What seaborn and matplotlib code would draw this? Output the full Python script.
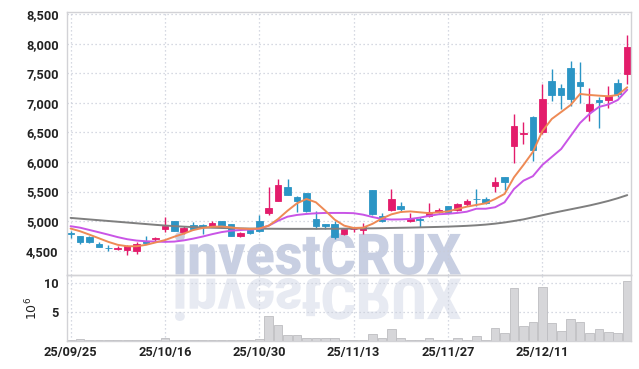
import numpy as np
import pandas as pd
import matplotlib
matplotlib.use("Agg")
import matplotlib.pyplot as plt
import seaborn as sns
from matplotlib.textpath import TextPath
from matplotlib.patches import PathPatch
from matplotlib.font_manager import FontProperties
from matplotlib.transforms import Affine2D, IdentityTransform
from matplotlib.ticker import FuncFormatter

# ---------------- data ----------------
dates = ["25/09/25", "25/09/26", "25/09/29", "25/09/30", "25/10/01", "25/10/02", "25/10/10",
         "25/10/13", "25/10/14", "25/10/15", "25/10/16", "25/10/17", "25/10/20", "25/10/21",
         "25/10/22", "25/10/23", "25/10/24", "25/10/27", "25/10/28", "25/10/29", "25/10/30",
         "25/10/31", "25/11/03", "25/11/04", "25/11/05", "25/11/06", "25/11/07", "25/11/10",
         "25/11/11", "25/11/12", "25/11/13", "25/11/14", "25/11/17", "25/11/18", "25/11/19",
         "25/11/20", "25/11/21", "25/11/24", "25/11/25", "25/11/26", "25/11/27", "25/11/28",
         "25/12/01", "25/12/02", "25/12/03", "25/12/04", "25/12/05", "25/12/08", "25/12/09",
         "25/12/10", "25/12/11", "25/12/12", "25/12/15", "25/12/16", "25/12/17", "25/12/18",
         "25/12/19", "25/12/22", "25/12/23", "25/12/24"]

opens = [4800, 4750, 4740, 4615, 4550, 4535, 4520, 4500, 4670, 4695,
         4870, 5000, 4815, 4930, 4935, 4925, 5005, 4955, 4750, 4855,
         5000, 5140, 5345, 5585, 5415, 5475, 5035, 4950, 4950, 4775,
         4860, 4855, 5525, 5095, 5195, 5250, 5010, 5035, 5080, 5150,
         5250, 5195, 5290, 5380, 5375, 5600, 5740, 6275, 6480, 6755,
         6500, 7375, 7250, 7590, 7355, 6870, 7050, 7055, 7335, 7480]
highs = [4830, 4755, 4745, 4650, 4600, 4575, 4590, 4645, 4750, 4740,
         5075, 5005, 4925, 4990, 4945, 5000, 5010, 4960, 4810, 4890,
         5105, 5575, 5715, 5715, 5420, 5480, 5175, 4955, 5010, 4870,
         4905, 4970, 5530, 5140, 5545, 5330, 5135, 5065, 5310, 5220,
         5255, 5310, 5375, 5545, 5400, 5740, 5750, 6810, 6670, 6785,
         7320, 7570, 7320, 7700, 7685, 7245, 7095, 7290, 7405, 8145]
lows = [4720, 4615, 4630, 4555, 4490, 4510, 4430, 4445, 4610, 4640,
        4825, 4835, 4785, 4850, 4785, 4895, 4900, 4750, 4740, 4785,
        4810, 5105, 5335, 5440, 5150, 5150, 4870, 4870, 4700, 4760,
        4810, 4785, 5110, 4990, 5180, 5150, 4980, 4905, 5065, 5135,
        5140, 5180, 5250, 5260, 5290, 5490, 5530, 5985, 6305, 6020,
        6480, 7035, 6895, 6950, 7000, 6700, 6570, 6910, 7095, 7320]
closes = [4775, 4655, 4640, 4560, 4540, 4545, 4575, 4615, 4625, 4720,
          4925, 4840, 4880, 4875, 4900, 4975, 4905, 4755, 4795, 4800,
          4830, 5230, 5610, 5450, 5345, 5180, 4915, 4925, 4740, 4865,
          4870, 4905, 5120, 5010, 5375, 5205, 5035, 5020, 5150, 5190,
          5150, 5290, 5335, 5370, 5305, 5655, 5670, 6615, 6495, 6210,
          7065, 7140, 7140, 7065, 7280, 6980, 7020, 7120, 7150, 7940]

ma_short = [4875, 4830, 4772, 4711, 4650, 4600, 4576, 4576, 4600, 4640,
            4680, 4738, 4790, 4850, 4885, 4905, 4910, 4895, 4875, 4868,
            4875, 4924, 5037, 5177, 5302, 5375, 5319, 5177, 5025, 4924,
            4885, 4890, 4955, 5045, 5115, 5155, 5165, 5150, 5135, 5150,
            5165, 5206, 5245, 5274, 5302, 5375, 5460, 5742, 5950, 6170,
            6520, 6727, 6845, 6964, 7150, 7133, 7121, 7111, 7133, 7263]
ma_mid = [4915, 4890, 4851, 4812, 4772, 4730, 4695, 4672, 4660, 4655,
          4650, 4655, 4675, 4705, 4740, 4780, 4815, 4838, 4850, 4858,
          4872, 4924, 5008, 5076, 5105, 5122, 5133, 5139, 5139, 5139,
          5135, 5110, 5070, 5037, 5028, 5030, 5037, 5059, 5090, 5116,
          5125, 5139, 5160, 5210, 5210, 5235, 5319, 5544, 5684, 5760,
          5950, 6085, 6220, 6440, 6660, 6812, 6930, 6972, 7048, 7220]
ma_long = [5055, 5042, 5029, 5016, 5003, 4990, 4977, 4964, 4951, 4938,
           4926, 4916, 4907, 4900, 4894, 4889, 4885, 4881, 4878, 4875,
           4873, 4872, 4871, 4870, 4870, 4870, 4870, 4871, 4872, 4873,
           4875, 4877, 4879, 4882, 4885, 4888, 4891, 4895, 4899, 4903,
           4908, 4914, 4921, 4930, 4942, 4958, 4978, 5003, 5030, 5065,
           5100, 5135, 5168, 5200, 5232, 5265, 5302, 5342, 5388, 5440]

volume = [0.10, 0.25, 0.05, 0.05, 0.05, 0.05, 0.05, 0.10, 0.20, 0.10,
          0.55, 0.15, 0.10, 0.10, 0.20, 0.10, 0.20, 0.10, 0.10, 0.15,
          0.30, 4.30, 2.65, 0.95, 0.95, 0.55, 0.55, 0.40, 0.40, 0.20,
          0.10, 0.10, 1.25, 0.40, 2.10, 0.55, 0.20, 0.15, 0.55, 0.15,
          0.15, 0.40, 0.20, 0.75, 0.20, 2.30, 1.40, 9.10, 2.60, 3.30,
          9.30, 3.10, 1.70, 3.70, 3.20, 1.40, 2.10, 1.60, 1.40, 10.35]

tick_positions = [0, 10, 20, 30, 40, 50]
tick_labels = [dates[i] for i in tick_positions]
price_ticks = [4500, 5000, 5500, 6000, 6500, 7000, 7500, 8000, 8500]
volume_ticks = [5, 10]

# ---------------- style ----------------
UP = "#E31C6B"
DOWN = "#2B95C5"
ORANGE = "#EE8A55"
PURPLE = "#C955E6"
GREY = "#7F7F7F"
GRID = "#C9CDD9"
SPINE = "#D2D2D6"
TXT = "#222222"

sns.set_theme(style="white")
plt.rcParams['font.family'] = ['Roboto', 'DejaVu Sans']

df = pd.DataFrame({"idx": np.arange(len(dates)), "date": dates,
                   "open": opens, "high": highs, "low": lows, "close": closes,
                   "ma_short": ma_short, "ma_mid": ma_mid, "ma_long": ma_long,
                   "volume": volume})

W, H = 639, 369
fig = plt.figure(figsize=(W / 100, H / 100), dpi=100)
left, right = 67 / W, 631 / W
ax = fig.add_axes([left, 1 - 275.3 / H, right - left, (275.3 - 12.3) / H])
axv = fig.add_axes([left, 1 - 340.7 / H, right - left, (340.7 - 275.3) / H], sharex=ax)
for a in (ax, axv):
    a.set_facecolor("none")
    a.set_axisbelow(True)

# watermark (upright + reflection)
fp = FontProperties(family="Roboto", weight="black")
tp = TextPath((0, 0), "investCRUX", size=60, prop=fp)
ext = tp.get_extents()
sx = 286 / ext.width
sy = 43 / ext.height
up_tr = Affine2D().translate(-ext.x0, -ext.y0).scale(sx, sy).translate(175, H - 275)
dn_tr = Affine2D().translate(-ext.x0, -ext.y0).scale(sx, -sy).translate(175, H - 278)
p1 = PathPatch(up_tr.transform_path(tp), facecolor="#C8CFE2", edgecolor="none",
               transform=IdentityTransform(), zorder=-2)
p2 = PathPatch(dn_tr.transform_path(tp), facecolor="#E7EAF2", edgecolor="none",
               transform=IdentityTransform(), zorder=-2)
fig.add_artist(p1)
fig.add_artist(p2)

# candles
x = df["idx"].to_numpy()
o = df["open"].to_numpy(); c = df["close"].to_numpy()
colors = [UP if cc >= oo else DOWN for oo, cc in zip(o, c)]
ax.vlines(x, df["low"], df["high"], colors=colors, linewidth=1.0, zorder=2)
body_bottom = np.minimum(o, c)
body_height = np.maximum(np.abs(c - o), 12)
ax.bar(x, body_height, bottom=body_bottom, width=0.7, color=colors,
       edgecolor=colors, linewidth=0.6, zorder=2)

# moving averages
sns.lineplot(data=df, x="idx", y="ma_long", ax=ax, color=GREY, linewidth=1.4, zorder=3)
sns.lineplot(data=df, x="idx", y="ma_mid", ax=ax, color=PURPLE, linewidth=1.4, zorder=3)
sns.lineplot(data=df, x="idx", y="ma_short", ax=ax, color=ORANGE, linewidth=1.4, zorder=3)

# volume
axv.bar(df["idx"], df["volume"], width=0.92, color="#D6D6D9", edgecolor="#BDBDC1",
        linewidth=0.6, zorder=2)

# axes formatting
ax.set_xlim(-0.38, 59.4)
ax.set_ylim(4085, 8530)
axv.set_ylim(0, 11.4)
ax.set_yticks(price_ticks)
ax.yaxis.set_major_formatter(FuncFormatter(lambda v, p: f"{int(v):,}"))
axv.set_yticks(volume_ticks)
axv.set_xticks(tick_positions)
axv.set_xticklabels(tick_labels)
ax.set_xlabel(""); ax.set_ylabel("")
axv.set_xlabel("")
axv.set_ylabel(r"$10^6$", fontsize=9, color=TXT, labelpad=3)
plt.setp(ax.get_xticklabels(), visible=False)

for a in (ax, axv):
    a.grid(True, which="major", axis="both", linestyle=(0, (1, 2.2)), color=GRID, linewidth=0.9)
    a.tick_params(axis="both", length=0, labelsize=9.2, colors=TXT)
    a.tick_params(axis="y", pad=6)
    a.tick_params(axis="x", pad=4)
    for s in a.spines.values():
        s.set_color(SPINE)
        s.set_linewidth(1.0)
for lab in ax.get_yticklabels() + axv.get_yticklabels() + axv.get_xticklabels():
    lab.set_fontweight("bold")

fig.savefig("out.png", dpi=100)
